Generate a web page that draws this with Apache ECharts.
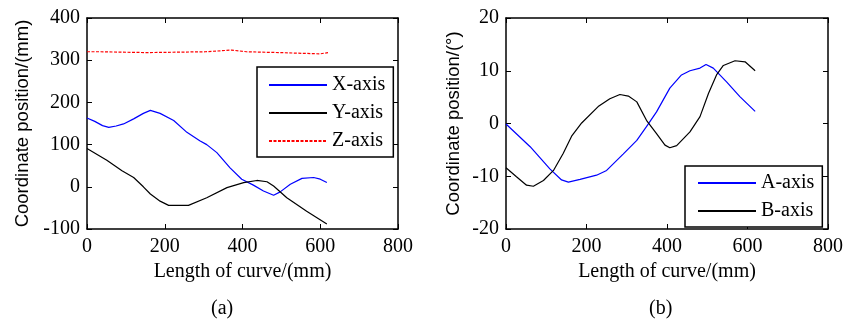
<!DOCTYPE html>
<html>
<head>
<meta charset="utf-8">
<script src="https://cdn.jsdelivr.net/npm/echarts@6/dist/echarts.min.js"></script>
<style>
  html, body { margin: 0; padding: 0; background: #fff; }
  #chart { width: 854px; height: 324px; }
</style>
</head>
<body>
<div id="chart"></div>
<script>
// (a) linear axes, [length, mm]
const xAxisData = [[0,163],[20,155],[40,145],[56,141],[75,144],[94,149],[120,161],[145,174],[163,181],[188,174],[223,157],[257,129],[290,109],[308,100],[334,81],[368,45],[398,18],[428,4],[454,-10],[480,-20],[497,-12],[523,6],[553,20],[583,22],[600,18],[617,10]];
const yAxisData = [[0,91],[51,63],[90,38],[120,22],[145,0],[163,-17],[188,-34],[210,-44],[261,-44],[308,-26],[360,-2],[403,10],[437,15],[463,12],[480,2],[514,-26],[565,-58],[617,-88]];
const zAxisData = [[0,320],[34,320],[38,318],[154,318],[158,320],[304,320],[308,324],[372,324],[376,320],[410,320],[414,318],[496,318],[500,315],[599,315],[603,318],[620,318]];
// (b) rotary axes, [length, deg]
const aAxisData = [[0,-0.1],[60,-4.4],[109,-8.6],[138,-10.7],[155,-11.1],[184,-10.6],[225,-9.8],[250,-8.9],[291,-5.8],[325,-3.2],[349,-0.6],[374,2.2],[407,6.7],[436,9.2],[457,10.0],[482,10.5],[497,11.2],[515,10.5],[548,7.9],[581,5.1],[619,2.3]];
const bAxisData = [[0,-8.4],[26,-10.1],[51,-11.7],[68,-11.9],[93,-10.8],[118,-8.9],[142,-5.7],[163,-2.4],[188,0.1],[229,3.2],[258,4.7],[283,5.5],[304,5.2],[325,4.1],[349,0.6],[374,-1.9],[395,-4.1],[407,-4.6],[424,-4.2],[457,-1.6],[482,1.3],[503,5.7],[523,9.2],[540,11.0],[569,11.9],[594,11.7],[619,10.0]];
const xTicks = [0, 800, 200];
const yTicksA = [-100, 400, 100];
const yTicksB = [-20, 20, 10];

const serif = 'Liberation Serif';
const sans = 'Liberation Sans';
const black = '#000';

const chart = echarts.init(document.getElementById('chart'), null, { renderer: 'canvas' });

const boxLine = { show: true, onZero: false, lineStyle: { color: black, width: 1.5 } };
const inTick = { show: true, inside: true, length: 5, lineStyle: { color: black, width: 1 } };
const tickLabel = { color: black, fontFamily: serif, fontSize: 20 };

function xAxes(gi) {
  return [
    { gridIndex: gi, type: 'value', min: xTicks[0], max: xTicks[1], interval: xTicks[2], position: 'bottom',
      axisLine: boxLine, axisTick: inTick, splitLine: { show: false },
      axisLabel: { ...tickLabel, margin: 8 },
      name: 'Length of curve/(mm)', nameLocation: 'middle', nameGap: 33,
      nameTextStyle: { color: black, fontFamily: serif, fontSize: 20 } },
    { gridIndex: gi, type: 'value', min: xTicks[0], max: xTicks[1], interval: xTicks[2], position: 'top',
      axisLine: boxLine, axisTick: inTick, splitLine: { show: false }, axisLabel: { show: false } },
  ];
}
function yAxes(gi, t, name, gap) {
  return [
    { gridIndex: gi, type: 'value', min: t[0], max: t[1], interval: t[2], position: 'left',
      axisLine: boxLine, axisTick: inTick, splitLine: { show: false },
      axisLabel: { ...tickLabel, margin: 7 },
      name: name, nameLocation: 'middle', nameGap: gap, nameRotate: 90,
      nameTextStyle: { color: black, fontFamily: sans, fontSize: 18.5 } },
    { gridIndex: gi, type: 'value', min: t[0], max: t[1], interval: t[2], position: 'right',
      axisLine: boxLine, axisTick: inTick, splitLine: { show: false }, axisLabel: { show: false } },
  ];
}

const legendBase = {
  orient: 'vertical', backgroundColor: '#fff', borderColor: black, borderWidth: 1.5, borderRadius: 0,
  itemWidth: 58, itemHeight: 14, itemGap: 8,
  itemStyle: { opacity: 0 },
  textStyle: { color: black, fontFamily: serif, fontSize: 20, lineHeight: 20 },
};

function line(name, data, xi, yi, color, type) {
  return { name, type: 'line', data, xAxisIndex: xi, yAxisIndex: yi, symbol: 'none',
    lineStyle: { color, width: 1.2, type: type || 'solid' }, itemStyle: { color } };
}

chart.setOption({
  animation: false,
  title: [
    { text: '(a)', left: 211, top: 299, padding: 0, textStyle: { color: black, fontFamily: serif, fontSize: 20, fontWeight: 'normal' } },
    { text: '(b)', left: 649, top: 299, padding: 0, textStyle: { color: black, fontFamily: serif, fontSize: 20, fontWeight: 'normal' } },
  ],
  grid: [
    { left: 87, top: 18, width: 311, height: 211 },
    { left: 506, top: 18, width: 322, height: 211 },
  ],
  xAxis: [...xAxes(0), ...xAxes(1)],
  yAxis: [...yAxes(0, yTicksA, 'Coordinate position/(mm)', 55), ...yAxes(1, yTicksB, 'Coordinate position/(°)', 43)],
  legend: [
    { ...legendBase, data: ['X-axis', 'Y-axis', 'Z-axis'], left: 257, top: 67, padding: [8, 8, 6, 11] },
    { ...legendBase, data: ['A-axis', 'B-axis'], left: 685, top: 166, padding: [7, 8, 6, 12] },
  ],
  series: [
    line('X-axis', xAxisData, 0, 0, '#0000ff'),
    line('Y-axis', yAxisData, 0, 0, '#000000'),
    line('Z-axis', zAxisData, 0, 0, '#ff0000', [3, 1.5]),
    line('A-axis', aAxisData, 2, 2, '#0000ff'),
    line('B-axis', bAxisData, 2, 2, '#000000'),
  ],
});
</script>
</body>
</html>
